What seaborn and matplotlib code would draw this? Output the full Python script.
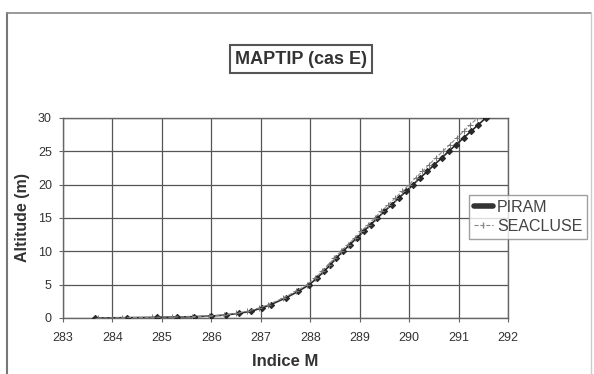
import matplotlib
matplotlib.use("Agg")
import matplotlib.pyplot as plt
import seaborn as sns
import pandas as pd
from matplotlib.lines import Line2D

# ---- data ----
piram_alt = [0, 0.05, 0.1, 0.15, 0.2, 0.3, 0.45, 0.7, 1.0, 1.5, 2, 3, 4, 5,
             6, 7, 8, 9, 10, 11, 12, 13, 14, 15, 16, 17, 18, 19, 20,
             21, 22, 23, 24, 25, 26, 27, 28, 29, 30]
piram_m = [283.65, 284.3, 284.9, 285.3, 285.65, 286.0, 286.3, 286.55, 286.8, 287.02, 287.2, 287.5, 287.76, 287.98,
           288.14, 288.28, 288.41, 288.53, 288.66, 288.8, 288.94, 289.08, 289.22, 289.36, 289.5, 289.65, 289.79, 289.94, 290.08,
           290.22, 290.37, 290.51, 290.66, 290.8, 290.95, 291.1, 291.25, 291.4, 291.55]

seacluse_alt = [0, 0.05, 0.1, 0.15, 0.2, 0.3, 0.45, 0.7, 1.0, 1.5, 2, 3, 4, 5,
                6, 7, 8, 9, 10, 11, 12, 13, 14, 15, 16, 17, 18, 19, 20,
                21, 22, 23, 24, 25, 26, 27, 28, 29, 30]
seacluse_m = [283.7, 284.2, 284.8, 285.2, 285.6, 285.95, 286.25, 286.5, 286.72, 286.96, 287.15, 287.45, 287.71, 287.94,
              288.1, 288.24, 288.37, 288.49, 288.62, 288.76, 288.9, 289.03, 289.17, 289.3, 289.44, 289.58, 289.72, 289.86, 290.0,
              290.13, 290.27, 290.4, 290.54, 290.68, 290.82, 290.96, 291.1, 291.24, 291.38]

x_ticks = [283, 284, 285, 286, 287, 288, 289, 290, 291, 292]
y_ticks = [0, 5, 10, 15, 20, 25, 30]

title = "MAPTIP (cas E)"
xlabel = "Indice M"
ylabel = "Altitude (m)"
names = ["PIRAM", "SEACLUSE"]

sns.set_style("white")
plt.rcParams['font.family'] = ['Liberation Sans', 'DejaVu Sans']

fig = plt.figure(figsize=(5.94, 3.74), dpi=100)
ax = fig.add_axes([63/594, 1-318/374, (508-63)/594, (318-118)/374])

df_p = pd.DataFrame({"M": piram_m, "alt": piram_alt})
df_s = pd.DataFrame({"M": seacluse_m, "alt": seacluse_alt})

sns.lineplot(data=df_p, x="M", y="alt", sort=False, ax=ax, color="#2a2a2a",
             lw=1.2, marker="D", markersize=3.4, markeredgewidth=0.4,
             markeredgecolor="#111111", zorder=3)
sns.lineplot(data=df_s, x="M", y="alt", sort=False, ax=ax, color="#8a8a8a",
             lw=0.8, linestyle="--", marker="+", markersize=4, markeredgewidth=0.7,
             markeredgecolor="#777777", zorder=4)

ax.set_xlim(283, 292)
ax.set_ylim(0, 30)
ax.set_xticks(x_ticks)
ax.set_yticks(y_ticks)
ax.set_xticklabels([str(t) for t in x_ticks])
ax.set_yticklabels([str(t) for t in y_ticks])
ax.grid(True, color="#555555", lw=0.9)
ax.set_axisbelow(True)
for s in ax.spines.values():
    s.set_color("#666666")
    s.set_linewidth(1.0)
ax.tick_params(axis="both", direction="out", length=3, width=0.8, color="#666666",
               labelsize=9, labelcolor="#333333", bottom=True, left=True)
ax.tick_params(axis="x", pad=7)
ax.tick_params(axis="y", pad=5)

ax.set_xlabel(xlabel, fontsize=12, fontweight="bold", color="#333333", labelpad=7)
ax.set_ylabel(ylabel, fontsize=11.5, fontweight="bold", color="#333333", labelpad=6)

fig.text(301/594, 1-59/374, title, ha="center", va="center", fontsize=13,
         fontweight="bold", color="#333333",
         bbox=dict(boxstyle="square,pad=0.3", fc="white", ec="#555555", lw=1.5))

# outer chart frame
fig.add_artist(Line2D([7/594, 7/594], [0, 1-13/374], transform=fig.transFigure, color="#777777", lw=1.5))
fig.add_artist(Line2D([7/594, 591/594], [1-13/374, 1-13/374], transform=fig.transFigure, color="#888888", lw=1.2))
fig.add_artist(Line2D([591/594, 591/594], [0, 1-13/374], transform=fig.transFigure, color="#cccccc", lw=1.0))

handles = [Line2D([], [], color="#333333", lw=4, solid_capstyle="round"),
           Line2D([], [], color="#888888", lw=0.8, linestyle="--", marker="|", markersize=4)]
leg = fig.legend(handles, names, loc="upper left", bbox_to_anchor=(469/594, 1-195/374),
                 borderaxespad=0, fontsize=11.5, frameon=True, fancybox=False,
                 handlelength=1.2, handletextpad=0.25, labelspacing=0.25,
                 borderpad=0.3, labelcolor="#444444")
leg.get_frame().set_edgecolor("#888888")
leg.get_frame().set_linewidth(1.0)

fig.savefig("out.png", dpi=100, facecolor="white")
